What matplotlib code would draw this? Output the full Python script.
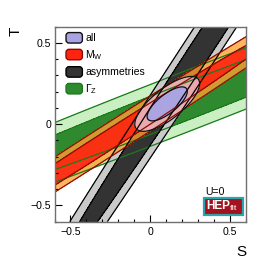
import numpy as np
import matplotlib
matplotlib.use('Agg')
import matplotlib.pyplot as plt
from matplotlib.patches import Patch, Rectangle, FancyBboxPatch
from matplotlib.legend_handler import HandlerPatch
from matplotlib.ticker import MultipleLocator, FixedLocator, FixedFormatter

plt.rcParams['font.family'] = ['Liberation Sans', 'DejaVu Sans']
plt.rcParams['mathtext.fontset'] = 'custom'
plt.rcParams['mathtext.rm'] = 'Liberation Sans'

# Gaussian constraints in the (S, T) plane: centre, widths, correlation
labels = ['all', 'M$_{\\rm W}$', 'asymmetries', '\u0393$_{\\rm Z}$']
s_mean = [0.106, -0.30, 0.377, 0.20]
t_mean = [0.125, -0.1224, 0.55, 0.130]
s_sigma = [0.083, 0.75, 0.6927, 1.20]
t_sigma = [0.069, 0.47314, 1.04, 0.4626]
rho = [0.74, 0.99548, 0.99697, 0.98573]

# 68% and 95% CL for two parameters
dchi2 = [2.30, 5.99]

ticks = [-0.5, 0, 0.5]
tick_labels = ['\u22120.5', '0', '0.5']

# colours: 68%, 95%, edge, alpha
col68 = ['#a9a3e4', '#ff2410', '#333333', '#2f8a2f']
col95 = ['#eab4bc', '#ffa030', '#cacaca', '#c9efc2']
coledge = ['#111111', '#8b0a00', '#000000', '#1c7a1c']
alpha68 = [0.95, 0.9, 1.0, 1.0]
alpha95 = [0.92, 0.78, 1.0, 1.0]
draw_order = [3, 2, 1, 0]

S = np.linspace(-0.6, 0.6, 700)
T = np.linspace(-0.6, 0.6, 700)
SS, TT = np.meshgrid(S, T)


def chi2(i):
    ds = (SS - s_mean[i]) / s_sigma[i]
    dt = (TT - t_mean[i]) / t_sigma[i]
    r = rho[i]
    return (ds**2 - 2 * r * ds * dt + dt**2) / (1 - r**2)


def round_box(legend, orig_handle, xdescent, ydescent, width, height, fontsize):
    return FancyBboxPatch((-xdescent, -ydescent), width, height,
                          boxstyle='round,pad=0,rounding_size=2.2')


fig = plt.figure(figsize=(2.74, 2.62), dpi=100)
ax = fig.add_axes([0.199, 0.154, 0.699, 0.744])

for i in draw_order:
    c = chi2(i)
    ax.contourf(SS, TT, c, levels=[0, dchi2[1]], colors=[col95[i]], alpha=alpha95[i])
    ax.contourf(SS, TT, c, levels=[0, dchi2[0]], colors=[col68[i]], alpha=alpha68[i])
    ax.contour(SS, TT, c, levels=dchi2, colors=coledge[i], linewidths=0.9)

ax.set_xlim(-0.6, 0.6)
ax.set_ylim(-0.6, 0.6)
for axis in (ax.xaxis, ax.yaxis):
    axis.set_major_locator(FixedLocator(ticks))
    axis.set_major_formatter(FixedFormatter(tick_labels))
    axis.set_minor_locator(MultipleLocator(0.1))
ax.tick_params(which='both', direction='in', top=False, right=False,
               labelsize=7.6, width=0.8, color='black')
ax.tick_params(which='major', length=4.8)
ax.tick_params(which='minor', length=2.4)
ax.tick_params(axis='y', pad=2.5)
ax.tick_params(axis='x', pad=4)
for sp in ax.spines.values():
    sp.set_color('#707070')
    sp.set_linewidth(1.0)

ax.set_xlabel('S', fontsize=11, loc='right')
ax.xaxis.set_label_coords(1.0, -0.12)
ax.set_ylabel('T', fontsize=11, loc='top')
ax.yaxis.set_label_coords(-0.165, 1.0)

handles = [Patch(facecolor=col68[i], edgecolor=coledge[i], linewidth=1.0)
           for i in range(len(labels))]
ax.legend(handles, labels, loc='upper left', bbox_to_anchor=(0.06, 0.97),
          frameon=False, fontsize=7.6, handlelength=1.55, handleheight=1.15,
          handletextpad=0.25, labelspacing=0.45, borderaxespad=0, borderpad=0,
          handler_map={Patch: HandlerPatch(patch_func=round_box)})

# HEPfit logo
ax.text(0.835, 0.152, 'U=0', transform=ax.transAxes, fontsize=7.6,
        ha='center', va='center')
ax.add_patch(Rectangle((0.779, 0.033), 0.205, 0.09, transform=ax.transAxes,
                       facecolor='#a3121f', edgecolor='#2ea3a8', linewidth=1.6,
                       zorder=5))
ax.text(0.79, 0.078, 'HEP', transform=ax.transAxes, fontsize=8.5,
        fontweight='bold', color='white', ha='left', va='center', zorder=6)
ax.text(0.917, 0.066, 'fit', transform=ax.transAxes, fontsize=5.5,
        fontweight='bold', color='#f4c8cc', ha='left', va='center', zorder=6)

fig.savefig('out.png', dpi=100)
